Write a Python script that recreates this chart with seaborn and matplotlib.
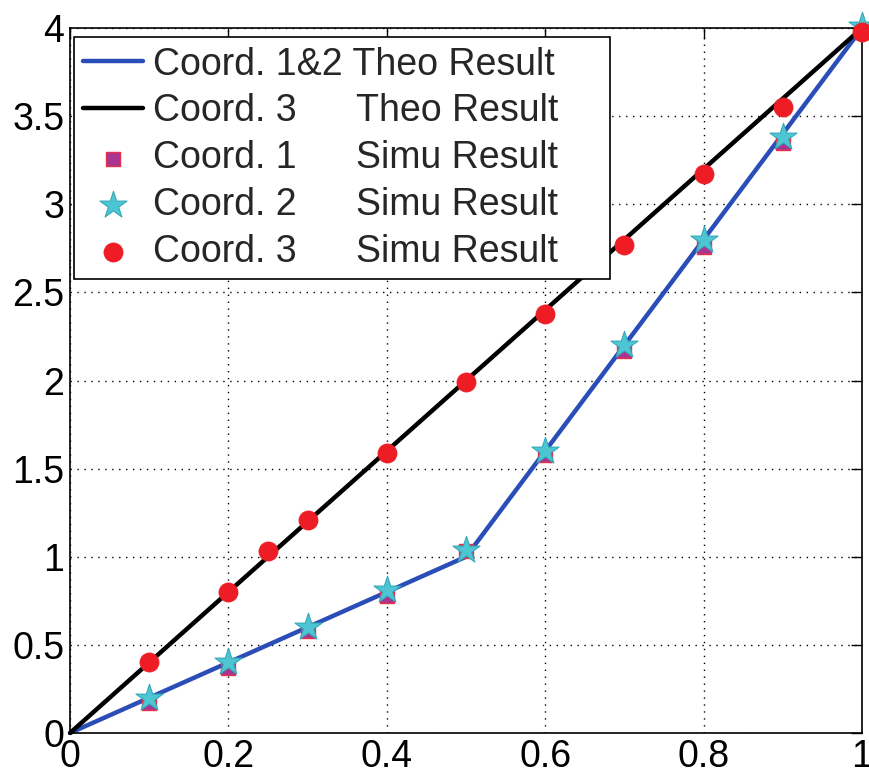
import numpy as np
import pandas as pd
import matplotlib
matplotlib.use("Agg")
import matplotlib.pyplot as plt
import seaborn as sns

# Data
theo12_x = [0.0, 0.1, 0.2, 0.3, 0.4, 0.5, 0.6, 0.7, 0.8, 0.9, 1.0]
theo12_y = [0.0, 0.2, 0.4, 0.6, 0.8, 1.0, 1.6, 2.2, 2.8, 3.4, 4.0]
theo3_x = [0.0, 0.1, 0.2, 0.3, 0.4, 0.5, 0.6, 0.7, 0.8, 0.9, 1.0]
theo3_y = [0.0, 0.4, 0.8, 1.2, 1.6, 2.0, 2.4, 2.8, 3.2, 3.6, 4.0]
sim1_x = [0.1, 0.2, 0.3, 0.4, 0.5, 0.6, 0.7, 0.8, 0.9, 1.0]
sim1_y = [0.17, 0.37, 0.58, 0.78, 1.03, 1.58, 2.17, 2.76, 3.35, 3.98]
sim2_x = [0.1, 0.2, 0.3, 0.4, 0.5, 0.6, 0.7, 0.8, 0.9, 1.0]
sim2_y = [0.20, 0.40, 0.60, 0.81, 1.04, 1.60, 2.20, 2.80, 3.38, 4.01]
sim3_x = [0.1, 0.2, 0.25, 0.3, 0.4, 0.5, 0.6, 0.7, 0.8, 0.9, 1.0]
sim3_y = [0.40, 0.80, 1.03, 1.21, 1.59, 1.99, 2.38, 2.77, 3.17, 3.55, 3.98]

gap = "     \u2009"
labels = ["Coord. 1&2 Theo Result",
          "Coord. 3" + gap + "Theo Result",
          "Coord. 1" + gap + "Simu Result",
          "Coord. 2" + gap + "Simu Result",
          "Coord. 3" + gap + "Simu Result"]
xticks = [0, 0.2, 0.4, 0.6, 0.8, 1]
xticklabels = ["0", "0.2", "0.4", "0.6", "0.8", "1"]
yticks = [0, 0.5, 1, 1.5, 2, 2.5, 3, 3.5, 4]
yticklabels = ["0", "0.5", "1", "1.5", "2", "2.5", "3", "3.5", "4"]

sns.set_style("white")
plt.rcParams['font.family'] = ['Liberation Sans', 'DejaVu Sans']

fig = plt.figure(figsize=(8.7, 7.8), dpi=100)
ax = fig.add_axes([0.0805, 0.0603, 0.9103, 0.9037])

sns.lineplot(x=theo12_x, y=theo12_y, ax=ax, color="#2b4db8", lw=3.2,
             label=labels[0], zorder=2, clip_on=False)
sns.lineplot(x=theo3_x, y=theo3_y, ax=ax, color="black", lw=3.2,
             label=labels[1], zorder=2, clip_on=False)
sns.scatterplot(x=sim1_x, y=sim1_y, ax=ax, marker="s", s=110, color="#a8358f",
                edgecolor="#e8304a", linewidth=1, label=labels[2], zorder=3, clip_on=False)
sns.scatterplot(x=sim2_x, y=sim2_y, ax=ax, marker="*", s=420, color="#4ec5d2",
                edgecolor="#35a9b8", linewidth=0.8, label=labels[3], zorder=4, clip_on=False)
sns.scatterplot(x=sim3_x, y=sim3_y, ax=ax, marker="o", s=190, color="#ee1c24",
                edgecolor="#ee1c24", linewidth=0.5, label=labels[4], zorder=5, clip_on=False)

ax.set_xlim(0, 1)
ax.set_ylim(0, 4)
ax.set_xticks(xticks)
ax.set_xticklabels(xticklabels)
ax.set_yticks(yticks)
ax.set_yticklabels(yticklabels)
ax.tick_params(axis='both', labelsize=27, direction='in', length=8, width=1,
               top=True, right=True, pad=4, colors='black')
ax.grid(True, linestyle=(0, (1, 4)), color='black', linewidth=1.0)
for s in ax.spines.values():
    s.set_color('black')
    s.set_linewidth(1.2)
ax.set_xlabel("")
ax.set_ylabel("")

leg = ax.legend(loc='upper left', bbox_to_anchor=(0.005, 0.987, 0.677, 0.0),
                mode='expand', fontsize=27, frameon=True, fancybox=False,
                edgecolor='black', framealpha=1, borderpad=0.25, labelspacing=0.29,
                handlelength=1.6, handletextpad=0.25, borderaxespad=0.0,
                markerscale=1.0)
leg.get_frame().set_linewidth(1.2)

fig.savefig("out.png", dpi=100)
